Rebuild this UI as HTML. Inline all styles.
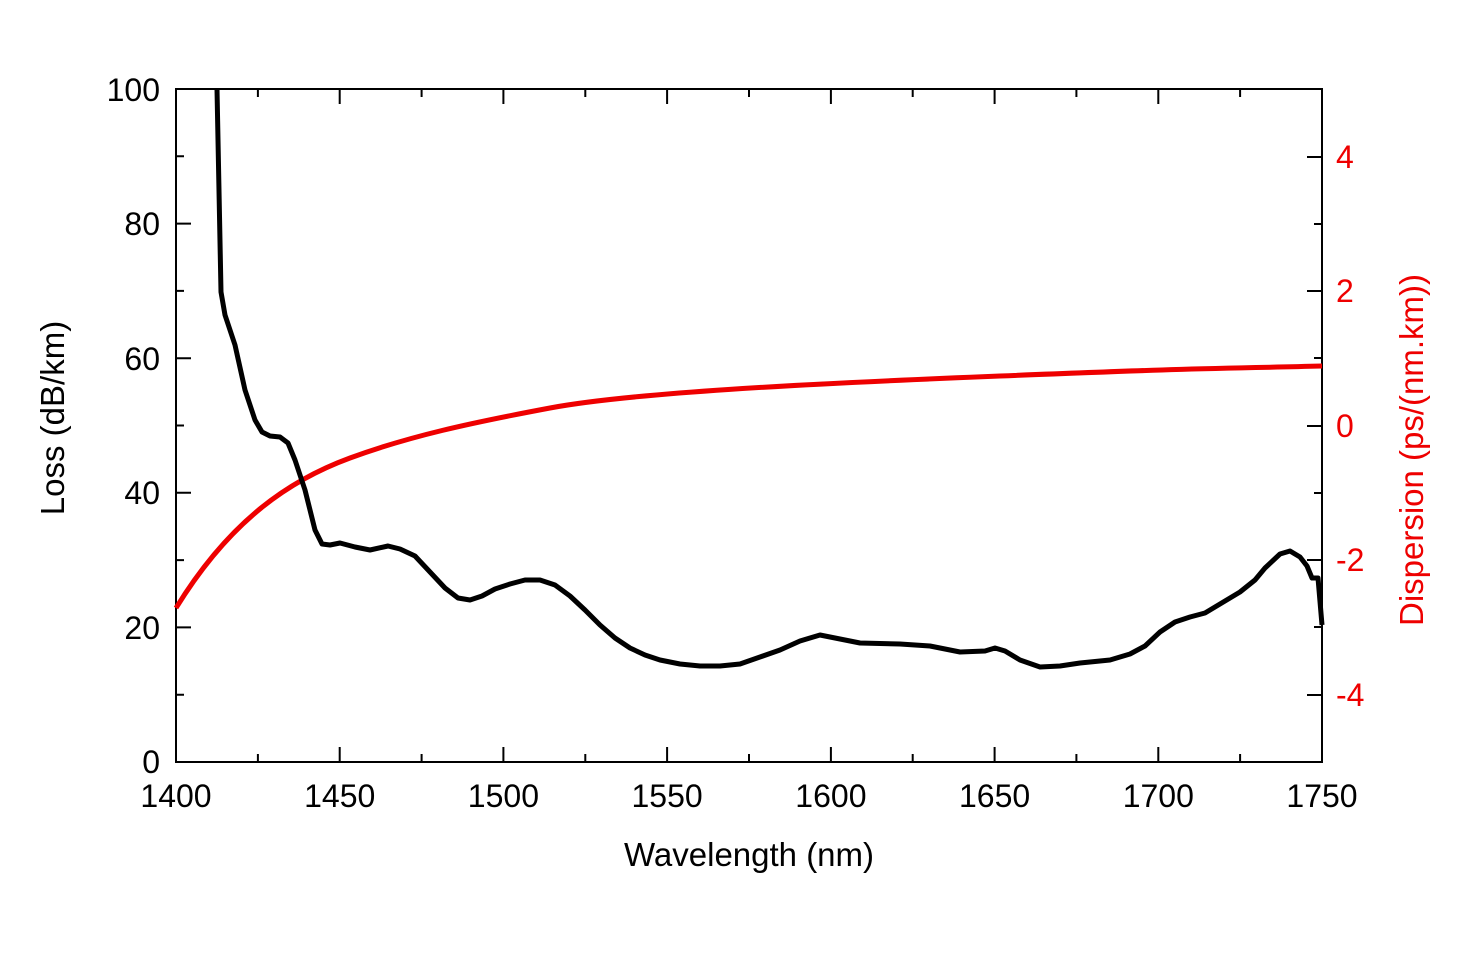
<!DOCTYPE html>
<html><head><meta charset="utf-8"><style>body{margin:0;background:#fff}svg{display:block}text{font-family:"Liberation Sans",Arial,sans-serif}</style></head>
<body>
<svg width="1459" height="964" viewBox="0 0 1459 964" xmlns="http://www.w3.org/2000/svg">
<rect width="1459" height="964" fill="#fff"/>
<g stroke="#000" stroke-width="2" fill="none">
<rect x="176" y="89" width="1146" height="673"/>
<path d="M176,762v-15M339.7,762v-15M503.4,762v-15M667.1,762v-15M830.9,762v-15M994.6,762v-15M1158.3,762v-15
M257.9,762v-8M421.6,762v-8M585.3,762v-8M749,762v-8M912.7,762v-8M1076.4,762v-8M1240.1,762v-8
M339.7,89v15M503.4,89v15M667.1,89v15M830.9,89v15M994.6,89v15M1158.3,89v15
M257.9,89v8M421.6,89v8M585.3,89v8M749,89v8M912.7,89v8M1076.4,89v8M1240.1,89v8"/>
<path d="M176,627.4h15M176,492.8h15M176,358.2h15M176,223.6h15M176,694.7h8M176,560.1h8M176,425.5h8M176,290.9h8M176,156.3h8"/>
<path d="M1322,157h-15M1322,291h-15M1322,426h-15M1322,560h-15M1322,695h-15M1322,224h-8M1322,358h-8M1322,493h-8M1322,627h-8"/>
</g>
<g font-size="32" fill="#000" text-anchor="middle">
<text x="176" y="807">1400</text><text x="339.7" y="807">1450</text><text x="503.4" y="807">1500</text><text x="667.1" y="807">1550</text><text x="830.9" y="807">1600</text><text x="994.6" y="807">1650</text><text x="1158.3" y="807">1700</text><text x="1322" y="807">1750</text>
<text x="749" y="866" font-size="33">Wavelength (nm)</text>
</g>
<g font-size="32" fill="#000" text-anchor="end">
<text x="160" y="773">0</text><text x="160" y="639">20</text><text x="160" y="504">40</text><text x="160" y="370">60</text><text x="160" y="235">80</text><text x="160" y="101">100</text>
</g>
<text transform="translate(64,418) rotate(-90)" font-size="33" text-anchor="middle" fill="#000">Loss (dB/km)</text>
<g font-size="32" fill="#ee0000" text-anchor="start">
<text x="1336" y="168">4</text><text x="1336" y="302">2</text><text x="1336" y="437">0</text><text x="1336" y="571">-2</text><text x="1336" y="706">-4</text>
</g>
<text transform="translate(1423,450) rotate(-90)" font-size="33" text-anchor="middle" fill="#ee0000">Dispersion (ps/(nm.km))</text>
<path fill="none" stroke="#ee0000" stroke-width="5" d="M176,608 C230,520 290,480 350,458 S470,423 550,408 S800,384 1000,376 S1200,369 1322,366"/>
<polyline fill="none" stroke="#000" stroke-width="5" stroke-linejoin="round" points="217,89 221,292 225,315 235,345 245,390 255,420 262,432 270,436 280,437 288,443 295,460 305,490 315,530 322,544 330,545 340,543 355,547 370,550 388,546 400,549 415,556 430,572 445,588 458,598 470,600 482,596 495,589 510,584 525,580 540,580 555,585 570,596 585,610 600,625 615,638 630,648 645,655 660,660 680,664 700,666 720,666 740,664 760,657 780,650 800,641 820,635 835,638 860,643 900,644 930,646 960,652 985,651 995,648 1005,651 1020,660 1040,667 1060,666 1080,663 1110,660 1130,654 1145,646 1160,632 1175,622 1190,617 1205,613 1220,604 1240,592 1255,580 1265,568 1280,554 1290,551 1300,557 1307,566 1312,578 1318,578 1322,625"/>
</svg>
</body></html>
